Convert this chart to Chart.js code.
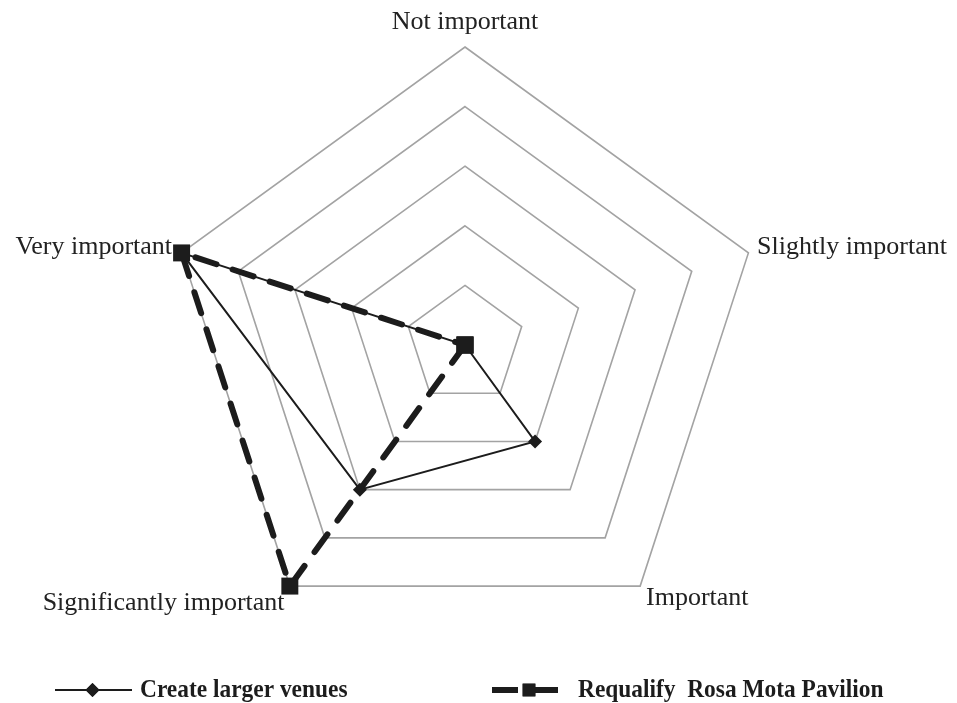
<!DOCTYPE html>
<html>
<head>
<meta charset="utf-8">
<script src="https://cdn.jsdelivr.net/npm/chart.js@4.4.1/dist/chart.umd.min.js"></script>
<style>
  html, body { margin: 0; padding: 0; background: #fff; }
  #wrap { width: 957px; height: 703px; }
</style>
</head>
<body>
<div id="wrap"><canvas id="radar"></canvas></div>
<script>
const categories = ['Not important', 'Slightly important', 'Important', 'Significantly important', 'Very important'];
const largerVenues = [0, 0, 2, 3, 5];
const rosaMota = [0, 0, 0, 5, 5];
const seriesNames = ['Create larger venues', 'Requalify  Rosa Mota Pavilion'];
const scaleMin = 0;
const scaleMax = 5;

const SERIF = "'Liberation Serif', 'Times New Roman', serif";
const INK = '#1c1c1c';

// where each category label sits relative to its outer vertex
const labelPlace = [
  { align: 'center', gap: 25 },
  { align: 'left', gap: 9 },
  { align: 'left', gap: 10 },
  { align: 'right', gap: 9 },
  { align: 'right', gap: 10 }
];
const labelShift = [0, -3, 4, 10, -3];

const pointLabelsPlugin = {
  id: 'pointLabelsManual',
  afterDraw(chart) {
    const scale = chart.scales.r;
    const ctx = chart.ctx;
    ctx.save();
    ctx.font = '26px ' + SERIF;
    ctx.fillStyle = '#222';
    ctx.textBaseline = 'middle';
    categories.forEach((label, i) => {
      const p = scale.getPointPosition(i, scale.drawingArea + labelPlace[i].gap);
      ctx.textAlign = labelPlace[i].align;
      ctx.fillText(label, p.x, p.y + labelShift[i]);
    });
    ctx.restore();
  }
};

const legendPlugin = {
  id: 'bottomLegend',
  afterDraw(chart) {
    const ctx = chart.ctx;
    const y = 690;
    const items = [
      { x0: 55, x1: 132, text: 140 },
      { x0: 492, x1: 568, text: 578 }
    ];
    chart.data.datasets.forEach(ds => {
      const it = items[ds.legendIndex];
      ctx.save();
      ctx.strokeStyle = ds.borderColor;
      ctx.lineWidth = ds.borderWidth;
      ctx.setLineDash(ds.borderDash ? [26, 14] : []);
      ctx.beginPath();
      ctx.moveTo(it.x0, y);
      ctx.lineTo(it.x1, y);
      ctx.stroke();
      ctx.setLineDash([]);
      ctx.fillStyle = ds.pointBackgroundColor;
      Chart.helpers.drawPoint(ctx, {
        pointStyle: ds.pointStyle,
        radius: ds.legendPointRadius,
        borderWidth: 0
      }, (it.x0 + it.x1) / 2 - 1, y);
      ctx.fill();
      ctx.restore();

      ctx.save();
      ctx.font = 'bold 26px ' + SERIF;
      ctx.fillStyle = INK;
      ctx.textBaseline = 'alphabetic';
      ctx.translate(it.text, 697);
      ctx.scale(0.9, 1);
      ctx.fillText(seriesNames[ds.legendIndex], 0, 0);
      ctx.restore();
    });
  }
};

new Chart(document.getElementById('radar'), {
  type: 'radar',
  data: {
    labels: categories,
    datasets: [
      {
        label: seriesNames[1],
        legendIndex: 1,
        data: rosaMota,
        borderColor: INK,
        borderWidth: 6,
        borderDash: [22, 17],
        borderCapStyle: 'round',
        fill: false,
        pointStyle: 'rect',
        pointRadius: 12,
        legendPointRadius: 9,
        pointBackgroundColor: INK,
        pointBorderColor: INK,
        pointBorderWidth: 0,
        order: 1
      },
      {
        label: seriesNames[0],
        legendIndex: 0,
        data: largerVenues,
        borderColor: INK,
        borderWidth: 2,
        fill: false,
        pointStyle: 'rectRot',
        pointRadius: 7,
        legendPointRadius: 7,
        pointBackgroundColor: INK,
        pointBorderColor: INK,
        pointBorderWidth: 0,
        order: 2
      }
    ]
  },
  options: {
    responsive: true,
    maintainAspectRatio: false,
    animation: false,
    layout: { padding: { top: 47, bottom: 60, left: 0, right: 27 } },
    plugins: {
      legend: { display: false },
      tooltip: { enabled: false }
    },
    elements: { line: { tension: 0 } },
    scales: {
      r: {
        min: scaleMin,
        max: scaleMax,
        ticks: { display: false, stepSize: 1 },
        pointLabels: { display: false },
        angleLines: { display: false },
        grid: { color: '#a3a3a3', lineWidth: 1.6 }
      }
    }
  },
  plugins: [pointLabelsPlugin, legendPlugin]
});
</script>
</body>
</html>
